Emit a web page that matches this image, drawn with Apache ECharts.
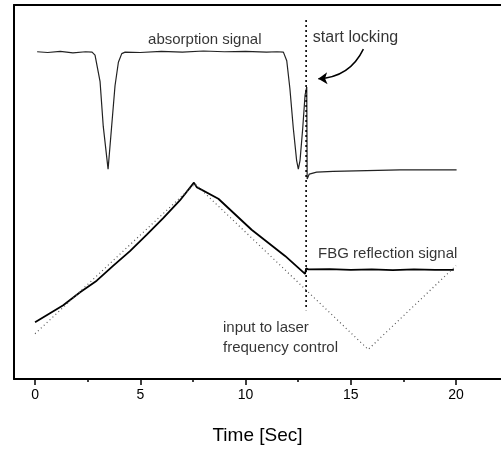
<!DOCTYPE html>
<html>
<head>
<meta charset="utf-8">
<style>
  html, body { margin: 0; padding: 0; background: #fff; }
  #chart { width: 501px; height: 450px; }
</style>
<script src="https://cdn.jsdelivr.net/npm/echarts@6/dist/echarts.min.js"></script>
</head>
<body>
<div id="chart"></div>
<script>
// absorption signal (arbitrary y units 0..100)
var absTime = [0.1, 0.6, 1.2, 1.8, 2.4, 2.71, 2.85, 3.09, 3.24, 3.47, 3.64, 3.80, 3.96, 4.12, 4.28,
  5.0, 6.0, 7.0, 8.0, 9.0, 10.0, 11.0, 11.5, 11.80, 11.96, 12.11, 12.27, 12.43, 12.51, 12.59,
  12.72, 12.83, 12.91, 12.93, 13.03, 13.38, 14.16, 15.76, 17.34, 20.03]
var absValue = [87.5, 87.3, 87.6, 87.2, 87.5, 87.4, 86.6, 79.5, 67.6, 56.1, 67.6, 78.4, 84.7, 87.0, 87.4,
  87.3, 87.6, 87.4, 87.7, 87.5, 87.6, 87.4, 87.5, 87.4, 85.1, 77.6, 67.1, 58.4, 56.1, 58.4,
  67.1, 75.9, 78.1, 53.5, 54.8, 55.3, 55.5, 55.7, 55.9, 55.9]

// FBG reflection signal (solid)
var fbgTime = [0, 0.71, 1.34, 2.14, 2.93, 3.72, 4.51, 5.31, 6.09, 6.89, 7.55, 7.68, 8.71, 10.29,
  11.88, 12.83, 12.88, 12.98, 14, 15, 16, 17, 18, 19, 19.9]
var fbgValue = [15.2, 17.6, 19.7, 23.2, 26.3, 30.3, 34.2, 38.6, 43.0, 47.8, 52.5, 51.3, 48.2, 39.9,
  32.9, 28.1, 29.6, 29.3, 29.4, 29.2, 29.3, 29.1, 29.3, 29.2, 29.2]

// input to laser frequency control (dotted triangle)
var ctrlTime = [0, 7.6, 15.83, 20]
var ctrlValue = [12.1, 52.2, 7.9, 30.3]

// "start locking" marker
var lockTime = 12.88
var lockRange = [96, 18.4]

var majorTicks = [0, 5, 10, 15, 20]
var minorTicks = [2.5, 7.5, 12.5, 17.5]

function pairs(xs, ys) {
  return xs.map(function (x, i) { return [x, ys[i]] })
}

var font = 'Arial, "Liberation Sans", sans-serif'

// text annotations: [time, value, text, font size]
var notes = [
  [5.37, 90.8, 'absorption signal', 15],
  [13.2, 91.3, 'start locking', 16],
  [13.45, 33.4, 'FBG reflection signal', 15],
  [8.93, 13.7, 'input to laser', 15],
  [8.93, 8.4, 'frequency control', 15]
]

var chart = echarts.init(document.getElementById('chart'))
chart.setOption({
  animation: false,
  grid: {
    left: 14,
    right: 0,
    top: 5,
    bottom: 65
  },
  xAxis: [{
    type: 'value',
    min: -1,
    max: 22.14,
    name: 'Time [Sec]',
    nameLocation: 'middle',
    nameGap: 47,
    nameTextStyle: { color: '#000', fontSize: 19, fontFamily: font },
    axisLine: { show: true, onZero: false, lineStyle: { color: '#000', width: 2 } },
    axisTick: { show: true, customValues: majorTicks, length: 6, lineStyle: { color: '#000', width: 1.5 } },
    axisLabel: { customValues: majorTicks, color: '#000', fontSize: 14, fontFamily: font, margin: 9 },
    splitLine: { show: false }
  }, {
    type: 'value',
    min: -1,
    max: 22.14,
    position: 'bottom',
    axisLine: { show: false },
    axisTick: { show: true, customValues: minorTicks, length: 3, lineStyle: { color: '#000', width: 1.5 } },
    axisLabel: { show: false },
    splitLine: { show: false }
  }, {
    type: 'value',
    min: -1,
    max: 22.14,
    position: 'top',
    axisLine: { show: true, onZero: false, lineStyle: { color: '#000', width: 2 } },
    axisTick: { show: false },
    axisLabel: { show: false },
    splitLine: { show: false }
  }],
  yAxis: {
    type: 'value',
    min: 0,
    max: 100,
    axisLine: { show: true, onZero: false, lineStyle: { color: '#000', width: 2 } },
    axisTick: { show: false },
    axisLabel: { show: false },
    splitLine: { show: false }
  },
  series: [{
    name: 'absorption signal',
    type: 'line',
    data: pairs(absTime, absValue),
    symbol: 'none',
    lineStyle: { color: '#222', width: 1.2 }
  }, {
    name: 'FBG reflection signal',
    type: 'line',
    data: pairs(fbgTime, fbgValue),
    symbol: 'none',
    lineStyle: { color: '#000', width: 1.8 }
  }, {
    name: 'input to laser frequency control',
    type: 'line',
    data: pairs(ctrlTime, ctrlValue),
    symbol: 'none',
    lineStyle: { color: '#555', width: 1.2, type: [1, 3] }
  }, {
    name: 'start locking',
    type: 'line',
    data: [[lockTime, lockRange[0]], [lockTime, lockRange[1]]],
    symbol: 'none',
    lineStyle: { color: '#000', width: 1.6, type: [2, 3] }
  }, {
    name: 'arrow',
    type: 'lines',
    coordinateSystem: 'cartesian2d',
    symbol: ['none', 'arrow'],
    symbolSize: 9,
    lineStyle: { color: '#000', width: 1.5, curveness: 0.3, opacity: 1 },
    data: [{ coords: [[15.6, 88.2], [13.46, 80.3]] }]
  }, {
    name: 'notes',
    type: 'scatter',
    symbolSize: 0,
    data: notes.map(function (n) {
      return { value: [n[0], n[1]], name: n[2], label: { fontSize: n[3] } }
    }),
    label: {
      show: true,
      position: [0, 0],
      align: 'left',
      verticalAlign: 'middle',
      formatter: '{b}',
      color: '#000',
      fontFamily: font
    }
  }]
})
</script>
</body>
</html>
